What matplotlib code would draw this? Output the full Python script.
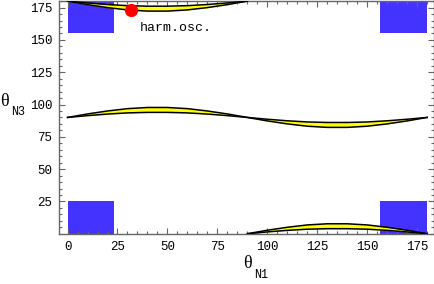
import matplotlib
matplotlib.use('Agg')
import matplotlib.pyplot as plt
from matplotlib.patches import Rectangle
from matplotlib.ticker import MultipleLocator

# ── data ──
x_full = [0, 10, 20, 30, 40, 50, 60, 70, 80, 90, 100, 110, 120, 130, 140, 150, 160, 170, 180]
mid_outer = [90, 92.7, 95.0, 96.8, 97.7, 97.7, 96.8, 95.0, 92.7, 90,
             87.3, 85.0, 83.2, 82.3, 82.3, 83.2, 85.0, 87.3, 90]
mid_inner = [90, 91.4, 92.6, 93.5, 93.9, 93.9, 93.5, 92.6, 91.4, 90,
             88.6, 87.4, 86.5, 86.1, 86.1, 86.5, 87.4, 88.6, 90]

x_top = [0, 10, 20, 30, 40, 50, 60, 70, 80, 90]
top_outer = [180, 177.3, 175.0, 173.2, 172.3, 172.3, 173.2, 175.0, 177.3, 180]
top_inner = [180, 178.6, 177.4, 176.5, 176.1, 176.1, 176.5, 177.4, 178.6, 180]

x_bot = [90, 100, 110, 120, 130, 140, 150, 160, 170, 180]
bot_outer = [0, 2.7, 5.0, 6.8, 7.7, 7.7, 6.8, 5.0, 2.7, 0]
bot_inner = [0, 1.4, 2.6, 3.5, 3.9, 3.9, 3.5, 2.6, 1.4, 0]

# blue boxes: (x0, y0, width, height)
boxes = [(0, 0, 23.5, 25), (0, 155.5, 23.5, 24.5),
         (156.5, 0, 23.5, 25), (156.5, 155.5, 23.5, 24.5)]

harm_osc = (31.8, 173.4)

fig = plt.figure(figsize=(4.35, 2.84), dpi=100)
ax = fig.add_axes([0.136, 0.177, 0.862, 0.819])

for x0, y0, w, h in boxes:
    ax.add_patch(Rectangle((x0, y0), w, h, facecolor='#4433ff', edgecolor='none', zorder=1))

for xs, lo, hi in [(x_full, mid_inner, mid_outer), (x_top, top_outer, top_inner),
                   (x_bot, bot_inner, bot_outer)]:
    ax.fill_between(xs, lo, hi, color='#ffff00', zorder=2, linewidth=0)
    ax.plot(xs, lo, color='black', lw=1.1, zorder=3)
    ax.plot(xs, hi, color='black', lw=1.1, zorder=3)

ax.plot(*harm_osc, 'o', color='red', markersize=8.5, zorder=5, clip_on=False)
ax.text(36.3, 159.3, 'harm.osc.', family='Liberation Mono', fontsize=9.5, va='center', ha='left')

ax.set_xlim(-4.2, 183.5)
ax.set_ylim(0, 180)
ax.xaxis.set_major_locator(MultipleLocator(25))
ax.xaxis.set_minor_locator(MultipleLocator(5))
ax.yaxis.set_major_locator(MultipleLocator(25))
ax.yaxis.set_minor_locator(MultipleLocator(5))
ax.set_xticks(range(0, 180, 25))
ax.set_yticks(range(25, 180, 25))
ax.tick_params(which='both', direction='in', top=True, right=True, color='#666666', width=0.8)
ax.tick_params(which='major', length=4, pad=5, labelsize=9)
ax.tick_params(which='minor', length=2)
for lab in ax.get_xticklabels() + ax.get_yticklabels():
    lab.set_family('Liberation Mono')
for s in ax.spines.values():
    s.set_color('#666666')
    s.set_linewidth(1)

# axis labels: theta in serif, subscript in mono
fig.text(243 / 435, 1 - 264 / 284, '\u03b8', family='Liberation Serif', fontsize=13, va='center')
fig.text(254 / 435, 1 - 275 / 284, 'N1', family='Liberation Mono', fontsize=8.5, va='center')
fig.text(0 / 435, 1 - 102 / 284, '\u03b8', family='Liberation Serif', fontsize=13, va='center')
fig.text(11 / 435, 1 - 112 / 284, 'N3', family='Liberation Mono', fontsize=8.5, va='center')

fig.savefig('out.png', dpi=100, facecolor='white')
